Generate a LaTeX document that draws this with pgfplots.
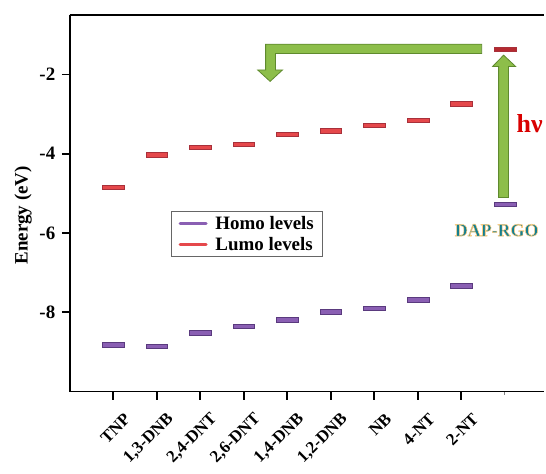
\documentclass[border=0pt]{standalone}
\usepackage{fontspec}
\setmainfont{Liberation Serif}
\usepackage{pgfplots}
\pgfplotsset{compat=1.18}
\definecolor{lumo}{HTML}{E5484B}
\definecolor{lumoD}{HTML}{A8303A}
\definecolor{lumoDark}{HTML}{B52A30}
\definecolor{homo}{HTML}{8A5FB3}
\definecolor{homoD}{HTML}{5A3A7E}
\definecolor{arrowG}{HTML}{8DBE4A}
\definecolor{arrowD}{HTML}{5F8A2E}
\definecolor{dapteal}{HTML}{137F90}
\pgfdeclareplotmark{hbar}{\pgfpathrectangle{\pgfpoint{-11pt}{-2.2pt}}{\pgfpoint{22pt}{4.4pt}}\pgfusepathqfillstroke}
\begin{document}
\begin{tikzpicture}
\begin{axis}[
  scale only axis, width=476pt, height=378pt,
  xmin=0, xmax=10.9, ymin=-10, ymax=-0.5,
  axis x line=box, axis y line=left,
  axis line style={-, line width=1.8pt},
  xtick pos=left, ytick pos=left,
  tick align=outside, major tick length=8pt,
  tick style={line width=1.8pt, black},
  xtick={1,...,9},
  xticklabels={TNP,{1,3-DNB},{2,4-DNT},{2,6-DNT},{1,4-DNB},{1,2-DNB},NB,{4-NT},{2-NT}},
  extra x ticks={10}, extra x tick labels={},
  extra x tick style={major tick length=3pt, tick style={line width=1pt, gray}},
  ytick={-8,-6,-4,-2},
  yticklabels={-8,-6,-4,-2},
  yticklabel style={font=\fontsize{19}{22}\selectfont\bfseries, xshift=-3pt},
  xticklabel style={font=\fontsize{17}{20}\selectfont\bfseries, xshift=15pt, yshift=-16pt, rotate=45, anchor=east, inner sep=1pt},
  ylabel={Energy (eV)},
  ylabel style={font=\fontsize{19}{22}\selectfont\bfseries, at={(axis description cs:-0.098,0.468)}, anchor=center},
  clip=false,
  legend style={at={(rel axis cs:0.214,0.479)}, anchor=north west, draw=black!60, line width=0.8pt,
    font=\fontsize{19}{22}\selectfont\bfseries, row sep=2pt, column sep=6pt, inner xsep=7pt, inner ysep=3pt},
  legend cell align=left,
]
\addplot[only marks, mark=hbar, mark options={fill=homo, draw=homoD, line width=0.6pt},
  legend image code/.code={\draw[homo, line width=3pt, line cap=round] (0pt,0pt) -- (26pt,0pt);}]
  coordinates {(1,-8.82) (2,-8.85) (3,-8.52) (4,-8.35) (5,-8.19) (6,-7.99) (7,-7.90) (8,-7.68) (9,-7.33) (10,-5.28)};
\addlegendentry{Homo levels}
\addplot[only marks, mark=hbar, mark options={fill=lumo, draw=lumoD, line width=0.6pt},
  legend image code/.code={\draw[lumo, line width=3pt, line cap=round] (0pt,0pt) -- (26pt,0pt);}]
  coordinates {(1,-4.85) (2,-4.03) (3,-3.84) (4,-3.76) (5,-3.51) (6,-3.42) (7,-3.28) (8,-3.15) (9,-2.74)};
\addlegendentry{Lumo levels}
\addplot[only marks, mark=hbar, mark options={fill=lumoDark, draw=lumoD, line width=0.6pt}, forget plot]
  coordinates {(10,-1.36)};
% green arrows
\draw[fill=arrowG, draw=arrowD, line width=0.8pt]
  (axis cs:9.467,-1.237) -- (axis cs:4.501,-1.237) -- (axis cs:4.501,-1.887) -- (axis cs:4.318,-1.887)
  -- (axis cs:4.604,-2.176) -- (axis cs:4.890,-1.887) -- (axis cs:4.730,-1.887) -- (axis cs:4.730,-1.471)
  -- (axis cs:9.467,-1.471) -- cycle;
\draw[fill=arrowG, draw=arrowD, line width=0.8pt]
  (axis cs:9.856,-5.106) -- (axis cs:9.856,-1.798) -- (axis cs:9.719,-1.798) -- (axis cs:9.970,-1.514)
  -- (axis cs:10.245,-1.798) -- (axis cs:10.085,-1.798) -- (axis cs:10.085,-5.106) -- cycle;
\node[text=red!85!black, font=\fontsize{26}{30}\selectfont\bfseries] at (axis cs:10.57,-3.23) {hν};
\node[font=\fontsize{18}{21}\selectfont\bfseries] at (axis cs:9.81,-5.93)
  {\color{dapteal}\special{pdf:literal direct 2 Tr 0.55 w 1 j 1 0.8 0.5 RG}DAP-RGO\special{pdf:literal direct 0 Tr}};
\path (rel axis cs:0,1) ++(-70pt,15pt);
\path (rel axis cs:1,0) ++(0pt,-82pt);
\end{axis}
\end{tikzpicture}
\end{document}
